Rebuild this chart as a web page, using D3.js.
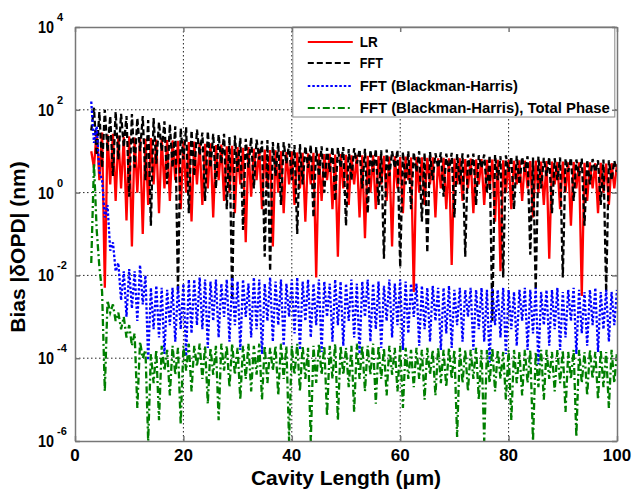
<!DOCTYPE html>
<html>
<head>
<meta charset="utf-8">
<script src="https://cdn.jsdelivr.net/npm/d3@7"></script>
<style>
  body { margin: 0; background: #fff; }
  text { font-family: "Liberation Sans", Arial, sans-serif; font-weight: bold; fill: #000; }
</style>
</head>
<body>
<div id="chart"></div>
<script>
// sample grid: cavity length in µm, every 0.5 µm from 3 to 100
const cavity = d3.range(3, 100.001, 0.5);

// values, stored as log10 of |δOPD| in nm
const lrLog = [
  1.0, 0.6, 1.5, 0.3, 1.45, -2.3, 1.4, 0.2, 1.42, -0.2,
  1.38, 0.1, 1.35, -0.67, 1.36, -1.3, 1.33, 0.0, 1.34, -1.0,
  1.3, -0.3, 1.32, 0.2, 1.28, -0.5, 1.3, 0.1, 1.27, -0.2,
  1.26, 0.3, 1.25, -0.4, 1.24, 0.0, 1.22, -0.7, 1.23, 0.2,
  1.2, -0.3, 1.18, 0.1, 1.19, -0.6, 1.15, 0.3, 1.16, -0.2,
  1.12, 0.0, 1.13, -0.5, 1.1, 0.2, 1.08, -1.2, 1.1, -0.1,
  1.06, 0.3, 1.05, -0.4, 1.04, 0.1, 1.03, -1.3, 1.02, 0.0,
  1.0, -0.5, 0.98, 0.2, 0.99, -0.3, 0.97, 0.1, 0.96, -0.7,
  0.95, 0.2, 0.96, -2.05, 0.94, -0.2, 0.93, 0.3, 0.94, -0.4,
  0.92, -1.55, 0.93, 0.1, 0.91, -0.3, 0.9, 0.2, 0.91, -0.6,
  0.9, -1.1, 0.89, 0.0, 0.9, -0.4, 0.88, 0.2, 0.89, -0.2,
  0.87, -1.3, 0.88, 0.1, 0.86, -0.5, 0.87, 0.3, 0.85, -2.4,
  0.86, 0.0, 0.85, -0.3, 0.84, 0.2, 0.85, -0.6, 0.83, 0.1,
  0.84, -0.4, 0.83, -1.75, 0.82, 0.2, 0.83, -0.2, 0.81, 0.1,
  0.82, -0.5, 0.8, 0.2, 0.81, -0.3, 0.79, 0.1, 0.8, -0.7,
  0.79, -1.9, 0.78, 0.0, 0.79, -0.4, 0.77, 0.2, 0.78, -0.2,
  0.77, 0.1, 0.76, -0.6, 0.77, 0.0, 0.75, -0.3, 0.76, -1.6,
  0.75, 0.2, 0.74, -0.4, 0.75, 0.0, 0.73, -0.8, 0.74, 0.1,
  0.73, -2.5, 0.72, -0.2, 0.73, 0.1, 0.71, -0.5, 0.72, 0.0,
  0.7, -0.3, 0.71, 0.1, 0.69
];

const fftLog = [
  1.5, 2.05, 0.9, 1.95, 0.6, 2.0, 1.0, 1.85, 0.4, 1.95,
  0.8, 1.9, 1.1, 1.85, -0.1, 1.9, 0.6, 1.8, 1.0, 1.85,
  0.3, 1.75, -0.8, 1.8, 0.7, 1.7, 1.0, 1.72, 0.2, 1.65,
  0.6, 1.6, -2.4, 1.55, 0.8, 1.58, -0.5, 1.5, 0.4, 1.52,
  0.9, 1.45, -0.2, 1.48, 0.6, 1.42, 0.1, 1.4, 0.7, 1.42,
  -0.4, 1.35, -2.6, 1.38, 0.5, 1.32, -0.9, 1.3, 0.6, 1.33,
  0.1, 1.28, 0.8, 1.25, -1.55, 1.27, -1.9, 1.22, 0.4, 1.2,
  -0.3, 1.22, 0.7, 1.18, 0.3, 1.15, -1.0, 1.17, 0.2, 1.12,
  0.6, 1.15, -0.6, 1.1, 0.4, 1.12, 0.0, 1.08, 0.5, 1.1,
  -0.2, 1.08, 0.6, 1.1, -0.8, 1.05, 0.3, 1.07, 0.7, 1.04,
  0.1, 1.06, -0.5, 1.03, 0.5, 1.05, -0.3, 1.02, -1.6, 1.04,
  0.4, 1.0, 0.6, 1.03, -1.8, 0.98, 0.2, 1.0, -0.4, 0.97,
  0.5, 1.0, -0.7, 0.96, -1.45, 0.98, 0.3, 0.95, 0.6, 0.97,
  -0.1, 0.94, 0.5, 0.96, -0.6, 0.93, 0.2, 0.95, -1.55, 0.92,
  0.4, 0.94, -0.3, 0.9, 0.6, 0.92, 0.0, 0.9, -3.1, 0.91,
  0.3, 0.88, -2.05, 0.9, 0.5, 0.87, -0.4, 0.89, 0.2, 0.86,
  0.5, 0.88, -1.5, 0.85, -2.35, 0.87, 0.1, 0.84, 0.4, 0.86,
  -0.5, 0.83, 0.3, 0.85, -2.05, 0.82, 0.5, 0.84, -0.2, 0.8,
  0.4, 0.82, -0.8, 0.79, 0.2, 0.81, 0.5, 0.78, -0.3, 0.8,
  -2.4, 0.78, 0.3, 0.77, 0.5
];

const bhLog = [
  2.2, 1.2, 1.6, 0.5, 0.3, -0.6, -0.3, -1.4, -1.2, -1.9,
  -1.7, -2.6, -1.9, -3.0, -1.85, -2.8, -1.9, -3.1, -1.75, -2.7,
  -2.0, -4.05, -2.3, -3.3, -2.25, -3.5, -2.3, -3.9, -2.35, -3.2,
  -2.3, -3.6, -2.25, -3.3, -2.2, -3.95, -2.1, -3.4, -2.1, -3.2,
  -2.05, -3.3, -2.1, -3.75, -2.15, -3.1, -2.1, -3.5, -2.2, -3.0,
  -2.1, -3.6, -2.05, -3.2, -2.15, -3.8, -2.1, -3.0, -2.2, -3.5,
  -2.05, -3.3, -2.1, -3.9, -2.2, -3.1, -2.05, -3.6, -2.15, -3.2,
  -2.1, -3.7, -2.2, -3.0, -2.1, -3.4, -2.05, -3.8, -2.15, -3.1,
  -2.1, -3.5, -2.2, -3.2, -2.1, -3.85, -2.15, -3.0, -2.2, -3.6,
  -2.1, -3.2, -2.15, -3.7, -2.2, -3.1, -2.1, -3.5, -2.2, -3.9,
  -2.15, -3.0, -2.1, -3.6, -2.2, -3.3, -2.15, -3.75, -2.25, -3.1,
  -2.1, -3.5, -2.2, -3.2, -2.1, -3.8, -2.15, -3.4, -2.2, -3.0,
  -2.2, -3.7, -2.25, -3.3, -2.3, -3.6, -2.25, -3.1, -2.3, -3.8,
  -2.3, -3.4, -2.25, -3.75, -2.35, -3.2, -2.3, -3.6, -2.35, -3.0,
  -2.3, -3.8, -2.35, -3.3, -2.3, -3.6, -2.35, -4.1, -2.3, -3.2,
  -2.35, -3.5, -2.3, -3.9, -2.35, -3.3, -2.4, -3.7, -2.35, -3.1,
  -2.3, -3.8, -2.35, -3.4, -2.3, -4.15, -2.4, -3.2, -2.35, -3.7,
  -2.35, -3.3, -2.3, -3.8, -2.4, -3.5, -2.35, -3.1, -2.3, -3.9,
  -2.35, -3.4, -2.4, -3.7, -2.35, -3.2, -2.3, -3.85, -2.4, -3.3,
  -2.35, -3.6, -2.4, -3.2, -2.35
];

const bhTotalLog = [
  -1.7, 0.7, -0.9, -1.8, -2.4, -4.8, -2.6, -2.9, -2.7, -3.1,
  -2.9, -3.3, -3.0, -3.5, -3.2, -3.7, -3.4, -5.2, -3.6, -4.0,
  -3.8, -6.0, -3.9, -4.6, -3.8, -5.5, -3.7, -4.3, -3.8, -4.9,
  -3.7, -4.4, -3.75, -5.6, -3.7, -4.3, -3.65, -4.8, -3.7, -4.2,
  -3.65, -4.5, -3.7, -5.1, -3.75, -4.4, -3.7, -5.5, -3.65, -4.3,
  -3.7, -4.7, -3.65, -4.4, -3.75, -5.0, -3.7, -4.5, -3.65, -4.8,
  -3.7, -4.4, -3.65, -5.0, -3.7, -4.6, -3.75, -4.3, -3.7, -4.9,
  -3.65, -4.5, -3.7, -6.0, -3.7, -4.4, -3.65, -4.8, -3.7, -4.5,
  -3.75, -6.0, -3.7, -4.6, -3.65, -4.4, -3.7, -5.4, -3.7, -4.5,
  -3.65, -5.5, -3.7, -4.4, -3.75, -4.7, -3.7, -5.3, -3.65, -4.5,
  -3.7, -4.8, -3.7, -4.4, -3.65, -5.1, -3.7, -4.5, -3.75, -4.9,
  -3.7, -4.4, -3.75, -4.8, -3.7, -5.2, -3.75, -4.5, -3.8, -4.7,
  -3.75, -4.5, -3.8, -5.0, -3.75, -4.4, -3.8, -4.9, -3.75, -4.6,
  -3.8, -4.7, -3.75, -4.5, -3.8, -5.9, -3.75, -4.6, -3.8, -4.8,
  -3.8, -4.5, -3.75, -5.0, -3.8, -6.0, -3.8, -4.6, -3.75, -4.8,
  -3.8, -4.5, -3.85, -5.0, -3.8, -5.5, -3.8, -4.6, -3.85, -4.9,
  -3.8, -4.6, -3.8, -6.0, -3.85, -4.7, -3.8, -5.0, -3.8, -4.5,
  -3.85, -4.8, -3.8, -4.6, -3.8, -5.3, -3.85, -4.5, -3.8, -5.9,
  -3.8, -4.6, -3.85, -4.9, -3.8, -4.5, -3.85, -5.0, -3.8, -4.7,
  -3.85, -5.2, -3.8, -4.6, -3.85
];

const seriesNames = ["LR", "FFT", "FFT (Blackman-Harris)", "FFT (Blackman-Harris), Total Phase"];
const xTicks = [0, 20, 40, 60, 80, 100];
const yTickExp = [-6, -4, -2, 0, 2, 4];

const svgWidth = 633, svgHeight = 489;
const margin = { top: 27, right: 16, bottom: 48, left: 75 };
const width = svgWidth - margin.left - margin.right;
const height = svgHeight - margin.top - margin.bottom;

const svg = d3.select("#chart").append("svg")
  .attr("width", svgWidth)
  .attr("height", svgHeight);

const g = svg.append("g").attr("transform", `translate(${margin.left},${margin.top})`);

const x = d3.scaleLinear().domain([0, 100]).range([0, width]);
const y = d3.scaleLog().domain([1e-6, 1e4]).range([height, 0]);

// grid
const gridStyle = sel => sel.attr("stroke", "#222").attr("stroke-width", 1).attr("stroke-dasharray", "1.5,2.5");
g.selectAll(".gx").data(xTicks.slice(1, -1)).enter().append("line")
  .attr("x1", d => x(d)).attr("x2", d => x(d)).attr("y1", 0).attr("y2", height).call(gridStyle);
g.selectAll(".gy").data(yTickExp.slice(1, -1)).enter().append("line")
  .attr("y1", d => y(Math.pow(10, d))).attr("y2", d => y(Math.pow(10, d))).attr("x1", 0).attr("x2", width).call(gridStyle);

// data
g.append("clipPath").attr("id", "clip").append("rect").attr("width", width).attr("height", height);

const series = [
  { name: seriesNames[0], vals: lrLog, color: "#ff0000", dash: null },
  { name: seriesNames[1], vals: fftLog, color: "#000000", dash: "6,3" },
  { name: seriesNames[2], vals: bhLog, color: "#0000ff", dash: "2.5,2" },
  { name: seriesNames[3], vals: bhTotalLog, color: "#007f00", dash: "7,3,2,3" }
];

const line = d3.line()
  .x(d => x(d[0]))
  .y(d => y(Math.pow(10, d[1])));

const plot = g.append("g").attr("clip-path", "url(#clip)");
series.forEach(s => {
  plot.append("path")
    .datum(cavity.map((c, i) => [c, s.vals[i]]))
    .attr("d", line)
    .attr("fill", "none")
    .attr("stroke", s.color)
    .attr("stroke-width", 2.3)
    .attr("stroke-dasharray", s.dash);
});

// legend
const legend = g.append("g").attr("transform", `translate(${x(40) + 1},0)`);
legend.append("rect")
  .attr("width", 322).attr("height", 90)
  .attr("fill", "#fff").attr("stroke", "#888").attr("stroke-width", 1);
const legendRows = [15, 36, 59, 81];
const legendWidths = [18, 23, 158, 250];
series.forEach((s, i) => {
  legend.append("line")
    .attr("x1", 15).attr("x2", 60)
    .attr("y1", legendRows[i]).attr("y2", legendRows[i])
    .attr("stroke", s.color).attr("stroke-width", 2)
    .attr("stroke-dasharray", s.dash);
  legend.append("text")
    .attr("x", 67).attr("y", legendRows[i] + 5)
    .attr("font-size", 15)
    .attr("textLength", legendWidths[i])
    .attr("lengthAdjust", "spacingAndGlyphs")
    .text(s.name);
});

// axes box with inward ticks
const axisColor = "#777";
const axB = g.append("g").attr("transform", `translate(0,${height})`)
  .call(d3.axisBottom(x).tickValues(xTicks).tickSizeInner(-5).tickSizeOuter(0).tickFormat(""));
const axT = g.append("g")
  .call(d3.axisTop(x).tickValues(xTicks).tickSizeInner(-5).tickSizeOuter(0).tickFormat(""));
const yVals = yTickExp.map(e => Math.pow(10, e));
const axL = g.append("g")
  .call(d3.axisLeft(y).tickValues(yVals).tickSizeInner(-5).tickSizeOuter(0).tickFormat(""));
const axR = g.append("g").attr("transform", `translate(${width},0)`)
  .call(d3.axisRight(y).tickValues(yVals).tickSizeInner(-5).tickSizeOuter(0).tickFormat(""));
[axB, axT, axL, axR].forEach(a => {
  a.selectAll("path, line").attr("stroke", axisColor).attr("stroke-width", 1.5);
});

// x tick labels
g.selectAll(".xl").data(xTicks).enter().append("text")
  .attr("x", d => x(d)).attr("y", height + 20)
  .attr("text-anchor", "middle")
  .attr("font-size", 17)
  .text(d => d);

// y tick labels: 10 with superscript exponent
yTickExp.forEach(e => {
  const ty = y(Math.pow(10, e));
  svg.append("text")
    .attr("x", 38).attr("y", margin.top + ty + 6)
    .attr("font-size", 16)
    .attr("textLength", 16).attr("lengthAdjust", "spacingAndGlyphs")
    .text("10");
  svg.append("text")
    .attr("x", 57).attr("y", margin.top + ty - 6)
    .attr("font-size", 11)
    .text(e);
});

// axis titles
svg.append("text")
  .attr("x", margin.left + width / 2).attr("y", 485)
  .attr("text-anchor", "middle")
  .attr("font-size", 21)
  .text("Cavity Length (\u03bcm)");

svg.append("text")
  .attr("transform", `translate(25,247) rotate(-90)`)
  .attr("text-anchor", "middle")
  .attr("font-size", 21)
  .text("Bias |\u03b4OPD| (nm)");
</script>
</body>
</html>
